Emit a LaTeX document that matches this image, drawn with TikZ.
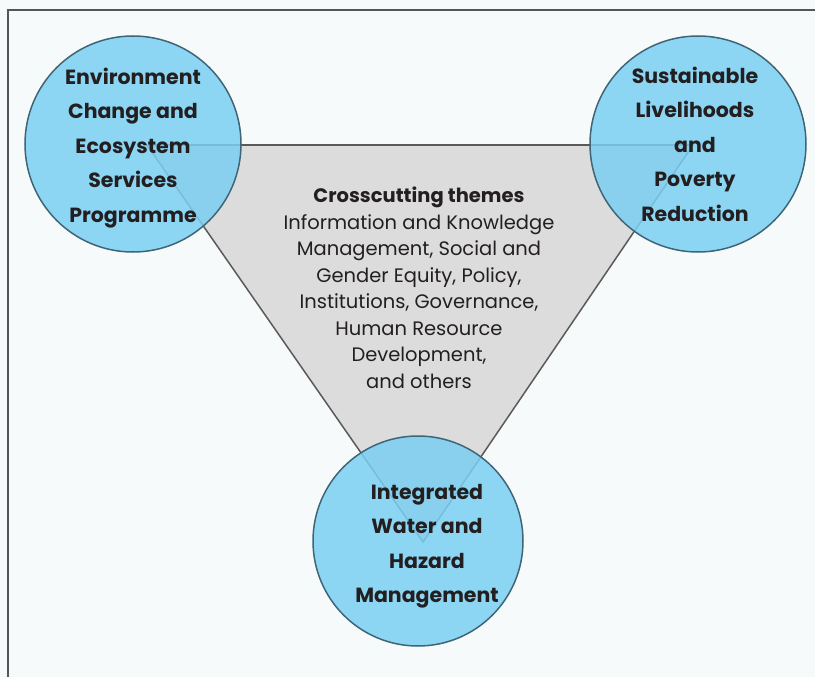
\documentclass[tikz,border=0pt]{standalone}
\usepackage{fontspec}
\setmainfont{Poppins}
\begin{document}
\begin{tikzpicture}[x=1pt,y=-1pt,
  theme/.style={circle, minimum size=216pt, inner sep=0pt, fill=circfill, fill opacity=0.85, draw=circline, line width=1.5pt},
  themetext/.style={align=center, font=\fontsize{20.5}{34.5}\selectfont\bfseries, text=txt},
  crosstext/.style={align=center, font=\fontsize{19.5}{26.5}\selectfont, text=txt}]
\definecolor{bg}{HTML}{F7FAFA}
\definecolor{circfill}{HTML}{7ACFF2}
\definecolor{circline}{HTML}{3F6677}
\definecolor{trifill}{HTML}{DCDCDC}
\definecolor{triline}{HTML}{5A5A5A}
\definecolor{frame}{HTML}{555555}
\definecolor{txt}{HTML}{231F20}
\useasboundingbox (0,0) rectangle (815,677);
\fill[bg] (0,0) rectangle (815,677);
\draw[frame, line width=1.3pt] (8,677) -- (8,10) -- (815,10);
\coordinate (tl) at (147,145);
\coordinate (tr) at (693,145);
\coordinate (tb) at (423,542);
\draw[fill=trifill, draw=triline, line width=1.5pt, line join=round] (tl) -- (tr) -- (tb) -- cycle;
\node[theme] (L) at (133,144) {};
\node[theme] (R) at (698,144) {};
\node[theme, minimum size=210pt] (B) at (418,541) {};
\node[themetext] (Lt) at ([yshift=-4pt]L.center) {Environment\\Change and\\Ecosystem\\Services\\Programme};
\node[themetext] (Rt) at ([xshift=-3pt]R.center) {Sustainable\\Livelihoods\\and\\Poverty\\Reduction};
\node[themetext] (Bt) at ([xshift=9pt,yshift=-5pt]B.center) {Integrated\\Water and\\Hazard\\Management};
\node[crosstext] (C) at (419,288) {\textbf{Crosscutting themes}\\Information and Knowledge\\Management, Social and\\Gender Equity, Policy,\\Institutions, Governance,\\Human Resource\\Development,\\and others};
\end{tikzpicture}
\end{document}
